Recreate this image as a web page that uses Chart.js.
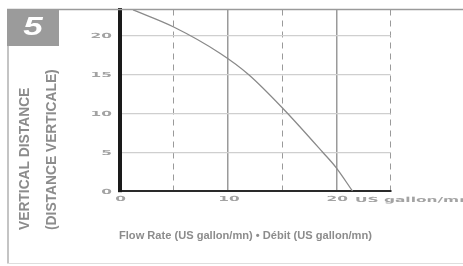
<!DOCTYPE html>
<html>
<head>
<meta charset="utf-8">
<script src="https://cdn.jsdelivr.net/npm/chart.js@4"></script>
<style>
  html, body { margin: 0; padding: 0; background: #fff; }
  #wrap { width: 463px; height: 266px; }
</style>
</head>
<body>
<div id="wrap"><canvas id="pump"></canvas></div>
<script>
// Curve: flow (US gallon/mn) vs vertical distance
const flow = [1.25, 5, 9.3, 11.9, 15.1, 18.75, 20, 21.5];
const head = [23.3, 21.1, 17.7, 15, 10.6, 5, 3.0, 0];

const xTickValues = [0, 10, 20];
const yTickValues = [0, 5, 10, 15, 20];
const xUnit = 'US gallon/mn';
const yTitle1 = 'VERTICAL DISTANCE';
const yTitle2 = '(DISTANCE VERTICALE)';
const xTitle = 'Flow Rate (US gallon/mn) \u2022 D\u00e9bit (US gallon/mn)';
const panelNumber = '5';

const tickGray = '#a3a3a3';
const textGray = '#8c8c8c';

// stretched text, to mimic the wide tick font
function wideText(ctx, str, x, y, align, sx) {
    ctx.save();
    ctx.translate(x, y);
    ctx.scale(sx, 1);
    ctx.textAlign = align;
    ctx.textBaseline = 'middle';
    ctx.fillText(str, 0, 0);
    ctx.restore();
}

function upText(ctx, str, x, y) {
    ctx.save();
    ctx.translate(x, y);
    ctx.rotate(-Math.PI / 2);
    ctx.textAlign = 'left';
    ctx.textBaseline = 'middle';
    ctx.fillText(str, 0, 0);
    ctx.restore();
}

const decor = {
    id: 'decor',
    beforeDraw(chart) {
        const ctx = chart.ctx;
        ctx.save();
        ctx.fillStyle = '#fff';
        ctx.fillRect(0, 0, chart.width, chart.height);
        ctx.restore();
    },
    afterDraw(chart) {
        const ctx = chart.ctx;
        const xs = chart.scales.x, ys = chart.scales.y;
        ctx.save();

        // frame lines
        ctx.strokeStyle = '#9a9a9a';
        ctx.lineWidth = 1.5;
        ctx.beginPath();
        ctx.moveTo(7, 9.5); ctx.lineTo(chart.width, 9.5);
        ctx.stroke();
        ctx.strokeStyle = '#b0b0b0';
        ctx.beginPath();
        ctx.moveTo(8, 9); ctx.lineTo(8, 263);
        ctx.stroke();
        ctx.strokeStyle = '#dedede';
        ctx.lineWidth = 1;
        ctx.beginPath();
        ctx.moveTo(7, 263.5); ctx.lineTo(chart.width, 263.5);
        ctx.stroke();

        // number box
        ctx.fillStyle = '#9b9b9b';
        ctx.fillRect(7, 9, 52, 37);
        ctx.fillStyle = '#fff';
        ctx.font = 'italic bold 25px "Liberation Sans"';
        wideText(ctx, panelNumber, 33, 28, 'center', 1.4);

        // tick labels
        ctx.fillStyle = tickGray;
        ctx.font = 'bold 7px "DejaVu Sans"';
        yTickValues.forEach(v => {
            wideText(ctx, String(v), 112, ys.getPixelForValue(v) + 1, 'right', 2.2);
        });
        xTickValues.forEach(v => {
            wideText(ctx, String(v), xs.getPixelForValue(v) + 1, 199, 'center', 2.2);
        });
        wideText(ctx, xUnit, 355, 200, 'left', 2.2);

        // axis titles
        ctx.fillStyle = textGray;
        ctx.font = 'bold 13.8px "Liberation Sans"';
        upText(ctx, yTitle1, 25.5, 230);
        upText(ctx, yTitle2, 52, 230);

        ctx.font = 'bold 11.1px "Liberation Sans"';
        ctx.textAlign = 'left';
        ctx.textBaseline = 'middle';
        ctx.fillText(xTitle, 119, 236);

        ctx.restore();
    }
};

new Chart(document.getElementById('pump'), {
    type: 'scatter',
    data: {
        datasets: [{
            data: flow.map((f, i) => ({ x: f, y: head[i] })),
            showLine: true,
            borderColor: '#8a8a8a',
            borderWidth: 1.3,
            pointRadius: 0,
            cubicInterpolationMode: 'monotone'
        }]
    },
    options: {
        responsive: true,
        maintainAspectRatio: false,
        animation: false,
        layout: { padding: { top: 9.5, right: 72.5, bottom: 0, left: 0 } },
        scales: {
            x: {
                type: 'linear',
                min: 0,
                max: 25,
                afterFit: s => { s.height = 74.8; },
                ticks: { display: false, stepSize: 5 },
                grid: {
                    drawTicks: false,
                    color: c => (c.tick && c.tick.value === 0) ? 'rgba(0,0,0,0)' : '#9a9a9a',
                    lineWidth: c => (c.tick && c.tick.value % 10 === 0) ? 1.5 : 1
                },
                border: {
                    color: '#2a2a2a',
                    width: 2,
                    dash: c => (c.tick && c.tick.value % 10 === 5) ? [6, 5] : []
                }
            },
            y: {
                min: 0,
                max: 23.35,
                afterFit: s => { s.width = 119.5; },
                ticks: { display: false, stepSize: 5, includeBounds: false },
                grid: {
                    drawTicks: false,
                    color: c => (c.tick && c.tick.value === 0) ? 'rgba(0,0,0,0)' : '#cfcfcf',
                    lineWidth: 1.2
                },
                border: { color: '#1a1a1a', width: 4 }
            }
        },
        plugins: {
            legend: { display: false },
            tooltip: { enabled: false }
        }
    },
    plugins: [decor]
});
</script>
</body>
</html>
